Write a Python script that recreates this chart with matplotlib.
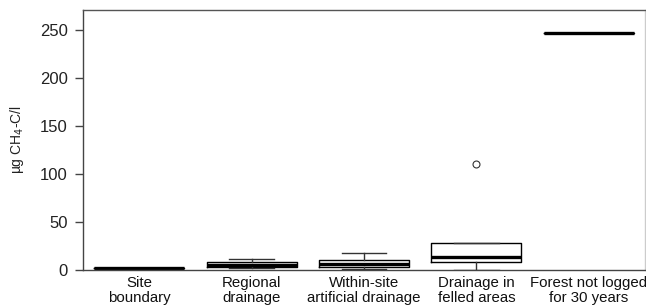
import matplotlib
matplotlib.use("Agg")
import matplotlib.pyplot as plt

plt.rcParams['font.family'] = ['Liberation Sans', 'DejaVu Sans']

categories = ["Site\nboundary", "Regional\ndrainage", "Within-site\nartificial drainage",
              "Drainage in\nfelled areas", "Forest not logged\nfor 30 years"]
medians = [2.0, 5.0, 6.5, 14.0, 247.5]
q1 = [1.8, 3.5, 3.5, 8.3, 247.5]
q3 = [2.2, 8.0, 10.0, 28.5, 247.5]
whislo = [1.8, 2.0, 1.5, 0.5, 247.5]
whishi = [2.2, 11.5, 18.0, 28.5, 247.5]
fliers = [[], [], [], [110.5], []]
yticks = [0, 50, 100, 150, 200, 250]

stats = []
for i in range(len(categories)):
    stats.append(dict(med=medians[i], q1=q1[i], q3=q3[i], whislo=whislo[i],
                      whishi=whishi[i], fliers=fliers[i], label=categories[i]))

fig = plt.figure(figsize=(6.46, 3.06), dpi=100)
ax = fig.add_axes([83/646, 36/306, 562/646, 260/306])

ax.bxp(stats, positions=range(1, 6), widths=0.8, showfliers=True,
       boxprops=dict(color='black', linewidth=1.0),
       medianprops=dict(color='black', linewidth=2.4, solid_capstyle='butt'),
       whiskerprops=dict(color='#333333', linewidth=1.0),
       capprops=dict(color='#333333', linewidth=1.0),
       capwidths=0.4,
       flierprops=dict(marker='o', markersize=5, markerfacecolor='white',
                       markeredgecolor='#333333', markeredgewidth=0.8))

ax.set_xlim(0.5, 5.5)
ax.set_ylim(0, 271)
ax.set_yticks(yticks)
ax.set_yticklabels([str(v) for v in yticks], fontsize=12, color='#222222')
ax.set_xticks(range(1, 6))
ax.set_xticklabels(categories, fontsize=10.8, color='#111111', linespacing=1.15)
ax.tick_params(axis='x', length=0, pad=4)
ax.tick_params(axis='y', length=6, width=1, color='#444444', pad=5)

ax.spines['left'].set_color('#444444')
ax.spines['top'].set_color('#555555')
ax.spines['bottom'].set_color('#444444')
ax.spines['right'].set_color('#cccccc')
for s in ax.spines.values():
    s.set_linewidth(1.0)

ax.set_ylabel("µg CH$_4$-C/l", fontsize=10, color='#222222', labelpad=10)

fig.savefig("out.png", dpi=100)
